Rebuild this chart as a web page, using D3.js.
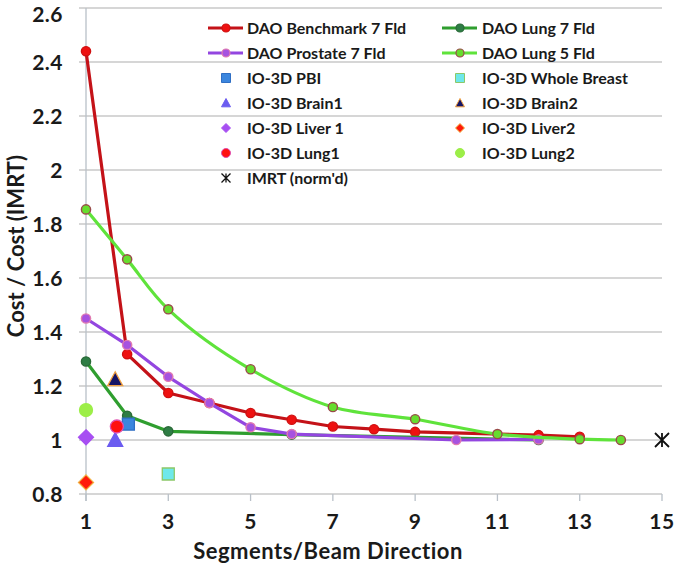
<!DOCTYPE html>
<html><head><meta charset="utf-8">
<script src="https://cdn.jsdelivr.net/npm/d3@7"></script>
<style>
body{margin:0;background:#fff}
svg{display:block}
text{font-family:Lato,"Open Sans",sans-serif;font-weight:700;fill:#1a1a1a}
</style>
</head><body>
<svg id="c" width="676" height="567"></svg>
<script>
// ---------- data ----------
const xTicks = [1, 3, 5, 7, 9, 11, 13, 15];
const yTicks = [0.8, 1, 1.2, 1.4, 1.6, 1.8, 2, 2.2, 2.4, 2.6];
const yTickLabels = ["0.8", "1", "1.2", "1.4", "1.6", "1.8", "2", "2.2", "2.4", "2.6"];

const benchX = [1, 2, 3, 4, 5, 6, 7, 8, 9, 12, 13];
const benchY = [2.44, 1.318, 1.174, 1.137, 1.1, 1.075, 1.05, 1.04, 1.03, 1.018, 1.012];
const lung7X = [1, 2, 3, 6, 12];
const lung7Y = [1.291, 1.09, 1.032, 1.02, 1.0];
const prostX = [1, 2, 3, 4, 5, 6, 10, 12];
const prostY = [1.45, 1.352, 1.234, 1.137, 1.047, 1.022, 1.0, 1.002];
const lung5X = [1, 2, 3, 5, 7, 9, 11, 13, 14];
const lung5Y = [1.854, 1.669, 1.484, 1.262, 1.122, 1.077, 1.022, 1.003, 1.0];

const pointNames = ["IO-3D PBI", "IO-3D Whole Breast", "IO-3D Brain1", "IO-3D Brain2",
  "IO-3D Liver 1", "IO-3D Liver2", "IO-3D Lung1", "IO-3D Lung2", "IMRT (norm'd)"];
const pointX = [2.03, 3, 1.71, 1.71, 1, 1, 1.75, 1, 15];
const pointY = [1.059, 0.874, 1.0, 1.225, 1.01, 0.843, 1.05, 1.111, 1.0];

const lineNames = ["DAO Benchmark 7 Fld", "DAO Lung 7 Fld", "DAO Prostate 7 Fld", "DAO Lung 5 Fld"];

// ---------- styles ----------
const lineStyles = [
  {line: "#c41218", fill: "#ee1111", stroke: "#d01010", curve: d3.curveLinear},
  {line: "#2f9e2f", fill: "#2e7d45", stroke: "#2a6a38", curve: d3.curveLinear},
  {line: "#9346e0", fill: "#a652e0", stroke: "#e07ab0", curve: d3.curveLinear},
  {line: "#5fe33b", fill: "#66dd2e", stroke: "#9a4a4a", curve: d3.curveCatmullRom.alpha(0.5)}
];
const pointStyles = [
  {shape: "square", fill: "#3b86de", stroke: "#2f6fc4", size: 12},
  {shape: "square", fill: "#6ee8ea", stroke: "#8cc868", size: 12},
  {shape: "triangle", fill: "#6b5cf0", stroke: "#6b5cf0", size: 15},
  {shape: "triangle", fill: "#141466", stroke: "#f0a040", size: 15},
  {shape: "diamond", fill: "#a74ff2", stroke: "#a74ff2", size: 15},
  {shape: "diamond", fill: "#ff1a0a", stroke: "#f2b040", size: 15},
  {shape: "circle", fill: "#ff1010", stroke: "#e050b0", size: 13},
  {shape: "circle", fill: "#9cee48", stroke: "#9cee48", size: 13},
  {shape: "star", fill: "none", stroke: "#111", size: 14}
];

const svg = d3.select("#c");
svg.append("rect").attr("width", 676).attr("height", 567).attr("fill", "#fff");

const x = d3.scaleLinear().domain([1, 15]).range([86, 662]);
const y = d3.scaleLinear().domain([0.8, 2.6]).range([494, 8]);

// gridlines
svg.append("g").selectAll("line").data(yTicks).join("line")
  .attr("x1", 79).attr("x2", 662)
  .attr("y1", d => y(d)).attr("y2", d => y(d))
  .attr("stroke", "#c9c9c9").attr("stroke-width", 1.3);

// y axis line
svg.append("line").attr("x1", x(1)).attr("x2", x(1)).attr("y1", y(2.6)).attr("y2", y(0.8) + 7)
  .attr("stroke", "#b9c0c8").attr("stroke-width", 1.3);
// x ticks
svg.append("g").selectAll("line").data(xTicks).join("line")
  .attr("x1", d => x(d)).attr("x2", d => x(d)).attr("y1", y(0.8)).attr("y2", y(0.8) + 7)
  .attr("stroke", "#b9c0c8").attr("stroke-width", 1.3);

// tick labels
svg.append("g").selectAll("text").data(yTicks).join("text")
  .attr("x", 63).attr("y", d => Math.max(y(d), 14)).attr("dy", "0.38em")
  .attr("text-anchor", "end").attr("font-size", 21).attr("letter-spacing", 0.5)
  .text((d, i) => yTickLabels[i]);
svg.append("g").selectAll("text").data(xTicks).join("text")
  .attr("x", d => x(d)).attr("y", 521).attr("dy", "0.36em")
  .attr("text-anchor", "middle").attr("font-size", 21).attr("letter-spacing", 0.5)
  .text(d => d);

// axis titles
svg.append("text").attr("x", 328).attr("y", 551).attr("dy", "0.36em")
  .attr("text-anchor", "middle").attr("font-size", 22).attr("letter-spacing", 0.5)
  .text("Segments/Beam Direction");
svg.append("text").attr("transform", "translate(16,246) rotate(-90)").attr("dy", "0.36em")
  .attr("text-anchor", "middle").attr("font-size", 22).text("Cost / Cost (IMRT)");

// symbol helper
function symPath(shape, s) {
  const h = s / 2;
  if (shape === "square") return `M${-h},${-h}H${h}V${h}H${-h}Z`;
  if (shape === "diamond") return `M0,${-h}L${h},0L0,${h}L${-h},0Z`;
  if (shape === "triangle") return `M0,${-h}L${h},${h * 0.85}L${-h},${h * 0.85}Z`;
  if (shape === "circle") return d3.symbol(d3.symbolCircle, Math.PI * h * h)();
  if (shape === "star") return `M${-h},${-h}L${h},${h}M${-h},${h}L${h},${-h}M0,${-h}V${h}`;
}

// series lines
const seriesX = [benchX, lung7X, prostX, lung5X];
const seriesY = [benchY, lung7Y, prostY, lung5Y];
seriesX.forEach((xs, si) => {
  const st = lineStyles[si];
  const pts = xs.map((v, i) => [v, seriesY[si][i]]);
  const g = svg.append("g");
  g.append("path").datum(pts)
    .attr("d", d3.line().x(d => x(d[0])).y(d => y(d[1])).curve(st.curve))
    .attr("fill", "none").attr("stroke", st.line).attr("stroke-width", 3.2)
    .attr("stroke-linejoin", "round");
  g.selectAll("circle").data(pts).join("circle")
    .attr("cx", d => x(d[0])).attr("cy", d => y(d[1])).attr("r", 4.6)
    .attr("fill", st.fill).attr("stroke", st.stroke).attr("stroke-width", 1.4);
});

// standalone points
pointX.forEach((px, i) => {
  const st = pointStyles[i];
  svg.append("path")
    .attr("transform", `translate(${x(px)},${y(pointY[i])})`)
    .attr("d", symPath(st.shape, st.size))
    .attr("fill", st.fill).attr("stroke", st.stroke)
    .attr("stroke-width", st.shape === "star" ? 1.8 : 1.3);
});

// legend
const legendRows = [28, 53, 78, 103, 128, 153, 178];
const colSym = [226, 460];
const colText = [247, 482];
const leg = svg.append("g");
lineNames.forEach((name, i) => {
  const col = i % 2, row = Math.floor(i / 2);
  const st = lineStyles[i];
  const cy = legendRows[row];
  leg.append("line").attr("x1", colSym[col] - 18).attr("x2", colSym[col] + 17)
    .attr("y1", cy).attr("y2", cy).attr("stroke", st.line).attr("stroke-width", 3);
  leg.append("circle").attr("cx", colSym[col]).attr("cy", cy).attr("r", 4)
    .attr("fill", st.fill).attr("stroke", st.stroke).attr("stroke-width", 1.2);
  leg.append("text").attr("x", colText[col]).attr("y", cy).attr("dy", "0.36em")
    .attr("font-size", 16).text(name);
});
pointNames.forEach((name, i) => {
  const col = i % 2, row = 2 + Math.floor(i / 2);
  const st = pointStyles[i];
  const cy = legendRows[row];
  leg.append("path").attr("transform", `translate(${colSym[col]},${cy})`)
    .attr("d", symPath(st.shape, 9))
    .attr("fill", st.fill).attr("stroke", st.stroke).attr("stroke-width", st.shape === "star" ? 1.3 : 1);
  leg.append("text").attr("x", colText[col]).attr("y", cy).attr("dy", "0.36em")
    .attr("font-size", 16).text(name);
});
</script>
</body></html>
